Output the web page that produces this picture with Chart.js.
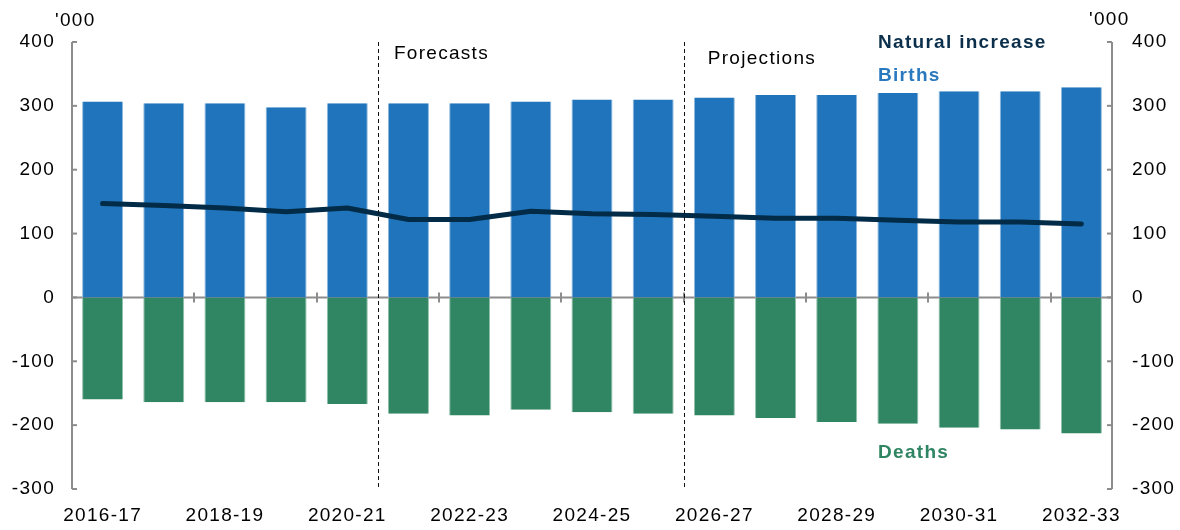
<!DOCTYPE html>
<html>
<head>
<meta charset="utf-8">
<script src="https://cdn.jsdelivr.net/npm/chart.js@4/dist/chart.umd.min.js"></script>
<style>
  html, body { margin: 0; padding: 0; background: #fff; }
  #wrap { width: 1180px; height: 530px; position: relative; }
</style>
</head>
<body>
<div id="wrap"><canvas id="myChart" width="1180" height="530"></canvas></div>
<script>
// chart data ('000)
const years = ['2016-17', '2017-18', '2018-19', '2019-20', '2020-21', '2021-22', '2022-23', '2023-24', '2024-25',
    '2025-26', '2026-27', '2027-28', '2028-29', '2029-30', '2030-31', '2031-32', '2032-33'];
const births = [307, 304, 304, 298, 304, 304, 304, 307, 310, 310, 313, 317, 317, 320, 323, 323, 329];
const deaths = [-160, -164, -164, -164, -167, -182, -185, -176, -180, -182, -185, -189, -195, -198, -204, -207, -213];
const naturalIncrease = [147, 144, 140, 134, 140, 122, 122, 135, 131, 130, 127, 124, 124, 121, 118, 118, 115];
const yTicks = [-300, -200, -100, 0, 100, 200, 300, 400];
// dashed dividers sit before these categories
const forecastStart = 5;
const projectionStart = 10;

const FONT = '"Liberation Sans", Arial, sans-serif';
const FONT_SIZE = 19;
const AXIS_GREY = '#8c8c8c';

// text in the original is drawn a little wider, so space the letters out
const spacing = {
    id: 'spacing',
    beforeDraw(chart) {
        chart.ctx.letterSpacing = '1.3px';
    }
};

// axis lines, tick marks, zero line, dividers and labels
const decorations = {
    id: 'decorations',
    beforeDatasetsDraw(chart) {
        const { ctx, chartArea: a, scales: { y } } = chart;
        const y0 = y.getPixelForValue(0);
        ctx.save();
        // zero line
        ctx.strokeStyle = AXIS_GREY;
        ctx.lineWidth = 2;
        ctx.beginPath();
        ctx.moveTo(a.left, y0);
        ctx.lineTo(a.right, y0);
        ctx.stroke();
        ctx.restore();
    },
    afterDatasetsDraw(chart) {
        const { ctx, chartArea: a, scales: { x, y } } = chart;
        const y0 = y.getPixelForValue(0);
        const half = (x.getPixelForValue(1) - x.getPixelForValue(0)) / 2;
        ctx.save();
        ctx.strokeStyle = AXIS_GREY;
        ctx.lineWidth = 2;

        // x tick marks on the zero line, every second category boundary
        for (let i = 2; i < years.length; i += 2) {
            const px = Math.round(x.getPixelForValue(i) - half);
            ctx.beginPath();
            ctx.moveTo(px, y0 - 5);
            ctx.lineTo(px, y0 + 5);
            ctx.stroke();
        }

        // left and right axis lines with inward ticks
        [a.left, a.right].forEach((px, side) => {
            ctx.beginPath();
            ctx.moveTo(px, y.getPixelForValue(400));
            ctx.lineTo(px, y.getPixelForValue(-300));
            ctx.stroke();
            yTicks.forEach(v => {
                const py = y.getPixelForValue(v);
                ctx.beginPath();
                ctx.moveTo(px, py);
                ctx.lineTo(side === 0 ? px + 5 : px - 5, py);
                ctx.stroke();
            });
        });

        // dashed dividers
        ctx.strokeStyle = '#111';
        ctx.lineWidth = 1;
        ctx.setLineDash([4, 3]);
        [forecastStart, projectionStart].forEach(i => {
            const px = Math.round(x.getPixelForValue(i) - half) + 0.5;
            ctx.beginPath();
            ctx.moveTo(px, a.top);
            ctx.lineTo(px, a.bottom);
            ctx.stroke();
        });
        ctx.setLineDash([]);

        // text labels
        ctx.textBaseline = 'middle';
        ctx.textAlign = 'left';
        ctx.fillStyle = '#000';
        ctx.font = FONT_SIZE + 'px ' + FONT;
        ctx.fillText('Forecasts', x.getPixelForValue(forecastStart) - half + 16, 54);
        ctx.fillText('Projections', x.getPixelForValue(projectionStart) - half + 24, 59);
        ctx.fillText("'000", 55, 21);
        ctx.fillText("'000", 1089, 20);

        ctx.font = 'bold ' + FONT_SIZE + 'px ' + FONT;
        ctx.fillStyle = '#0b2f4b';
        ctx.fillText('Natural increase', 878, 43);
        ctx.fillStyle = '#2a79bf';
        ctx.fillText('Births', 878, 76);
        ctx.fillStyle = '#2f8562';
        ctx.fillText('Deaths', 878, 453);
        ctx.restore();
    }
};

const tickFont = { family: FONT, size: FONT_SIZE };

const config = {
    type: 'bar',
    data: {
        labels: years,
        datasets: [{
            type: 'line',
            label: 'Natural increase',
            data: naturalIncrease,
            borderColor: '#022b47',
            borderWidth: 5,
            borderCapStyle: 'round',
            borderJoinStyle: 'round',
            pointRadius: 0,
            tension: 0,
            order: 0
        }, {
            label: 'Births',
            data: births,
            backgroundColor: '#1f74bb',
            borderColor: '#8fb9dd',
            borderWidth: { left: 1, right: 1, top: 0, bottom: 0 },
            order: 1
        }, {
            label: 'Deaths',
            data: deaths,
            backgroundColor: '#308562',
            borderColor: '#8fc0aa',
            borderWidth: { left: 1, right: 1, top: 0, bottom: 0 },
            order: 1
        }]
    },
    options: {
        responsive: false,
        animation: false,
        layout: { padding: { top: 42, left: 0, right: 0, bottom: 0 } },
        plugins: {
            legend: { display: false },
            tooltip: { enabled: false }
        },
        datasets: {
            bar: { barPercentage: 0.67, categoryPercentage: 1, grouped: false }
        },
        scales: {
            x: {
                grid: { display: false, drawTicks: false },
                border: { display: false },
                ticks: {
                    autoSkip: false,
                    maxRotation: 0,
                    padding: 15,
                    color: '#000',
                    font: tickFont,
                    callback: (v, i) => (i % 2 === 0 ? years[i] : '')
                },
                afterFit: axis => { axis.height = 41; }
            },
            y: {
                position: 'left',
                min: -300,
                max: 400,
                grid: { display: false, drawTicks: false },
                border: { display: false },
                ticks: {
                    stepSize: 100,
                    padding: 17,
                    color: '#000',
                    font: tickFont
                },
                afterFit: axis => { axis.width = 72; }
            },
            y2: {
                position: 'right',
                min: -300,
                max: 400,
                grid: { display: false, drawTicks: false },
                border: { display: false },
                ticks: {
                    stepSize: 100,
                    padding: 20,
                    color: '#000',
                    font: tickFont
                },
                afterFit: axis => { axis.width = 68; }
            }
        }
    },
    plugins: [spacing, decorations]
};

const myChart = new Chart(document.getElementById('myChart'), config);
</script>
</body>
</html>
